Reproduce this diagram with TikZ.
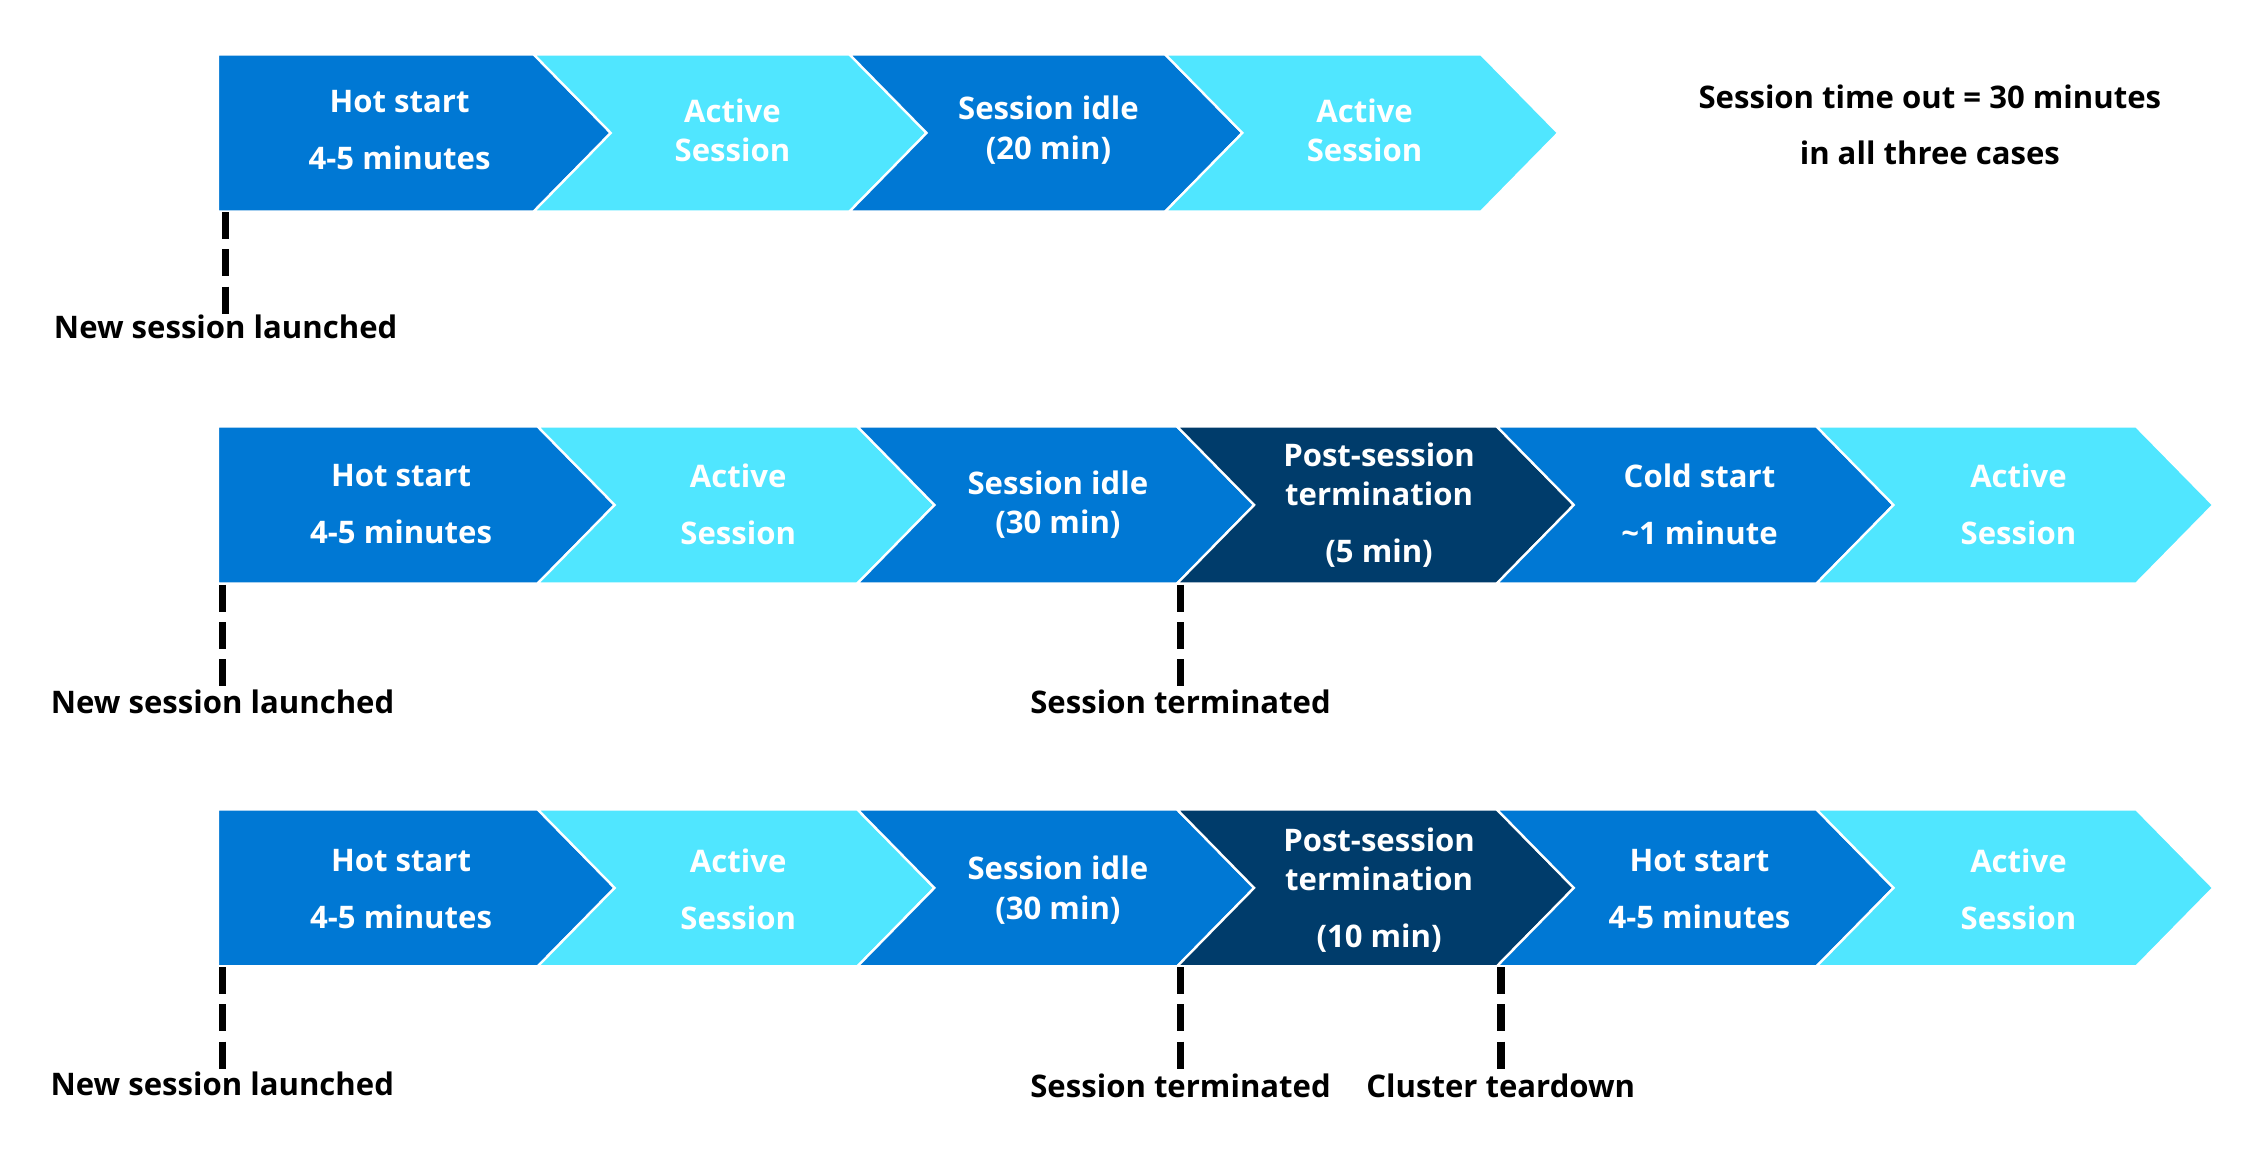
\documentclass[tikz,border=0pt]{standalone}
\usepackage{fontspec}
\setmainfont{Open Sans}
\usetikzlibrary{positioning}

\definecolor{hotblue}{HTML}{0078D4}
\definecolor{activecyan}{HTML}{50E6FF}
\definecolor{postnavy}{HTML}{003C6B}

\begin{document}
\begin{tikzpicture}[x=0.5pt,y=-0.5pt]
        \tikzset{
          seg/.style={draw=white, line width=0.8pt, line join=miter},
          segtext/.style={
            text=white,
            font=\bfseries\fontsize{10.7}{13.5}\selectfont,
            align=center,
            inner sep=0pt,
          },
          marker/.style={
            font=\bfseries\fontsize{10.7}{13.5}\selectfont,
            inner sep=0pt,
          },
          tick/.style={line width=2.6pt, dash pattern=on 9.3pt off 3.5pt},
        }
        \useasboundingbox (0,0) rectangle (1560,796);
        % chevron bars
        \foreach \top/\pitch/\cols in {
            37.5/217.3/{hotblue,activecyan,hotblue,activecyan},
            293.5/220/{hotblue,activecyan,hotblue,postnavy,hotblue,activecyan},
            557/220/{hotblue,activecyan,hotblue,postnavy,hotblue,activecyan}}
          \foreach \c [count=\i from 0] in \cols {
            \pgfmathsetmacro\l{150+\i*\pitch}
            \pgfmathsetmacro\n{\i==0 ? 0 : 53}
            \filldraw[seg, fill=\c] (\l,\top) -- ++(\pitch,0) -- ++(53,54)
              -- ++(-53,54) -- ++(-\pitch,0) -- ++(\n,-54) -- cycle;
          };
        % first case
        \node[segtext] (h1) at (275,89.5) {Hot start\\[6pt]4-5 minutes};
        \node[segtext] (a1) at (504,89.5) {Active\\Session};
        \node[segtext] (i1) at (721.5,89.5) {Session idle\\(20 min)};
        \node[segtext] (b1) at (939,89.5) {Active\\Session};
        % second case
        \node[segtext] (h2) at (276,347) {Hot start\\[6pt]4-5 minutes};
        \node[segtext] (a2) at (508,347) {Active\\[6pt]Session};
        \node[segtext] (i2) at (728,347.5) {Session idle\\(30 min)};
        \node[segtext] (p2) at (949,347.5) {Post-session\\termination\\[6pt](5 min)};
        \node[segtext] (c2) at (1169.5,347) {Cold start\\[6pt]\textasciitilde1 minute};
        \node[segtext] (b2) at (1389,347) {Active\\[6pt]Session};
        % third case
        \node[segtext] (h3) at (276,612) {Hot start\\[6pt]4-5 minutes};
        \node[segtext] (a3) at (508,612) {Active\\[6pt]Session};
        \node[segtext] (i3) at (728,612.5) {Session idle\\(30 min)};
        \node[segtext] (p3) at (949,612.5) {Post-session\\termination\\[6pt](10 min)};
        \node[segtext] (g3) at (1169.5,612) {Hot start\\[6pt]4-5 minutes};
        \node[segtext] (b3) at (1389,612) {Active\\[6pt]Session};
        % note
        \node[marker, align=center] (note) at (1328,86)
          {Session time out = 30 minutes\\[6pt]in all three cases};
        % event markers
        \coordinate (n1) at (155.3,146);
        \coordinate (n2) at (153.2,402.5);
        \coordinate (t2) at (812.4,402.5);
        \coordinate (n3) at (153,665.5);
        \coordinate (t3) at (812.4,665.5);
        \coordinate (d3) at (1032.7,665.5);
        \node[marker, below=35pt of n1] (new1) {New session launched};
        \node[marker, below=35.8pt of n2] (new2) {New session launched};
        \node[marker, below=35.8pt of t2] (end2) {Session terminated};
        \node[marker, below=36pt of n3] (new3) {New session launched};
        \node[marker, below=36.6pt of t3] (end3) {Session terminated};
        \node[marker, below=36.6pt of d3] (down3) {Cluster teardown};
        \draw[tick]
          (n1) -- (new1)
          (n2) -- (new2)
          (t2) -- (end2)
          (n3) -- (new3)
          (t3) -- (end3)
          (d3) -- (down3);
      \end{tikzpicture}
\end{document}
